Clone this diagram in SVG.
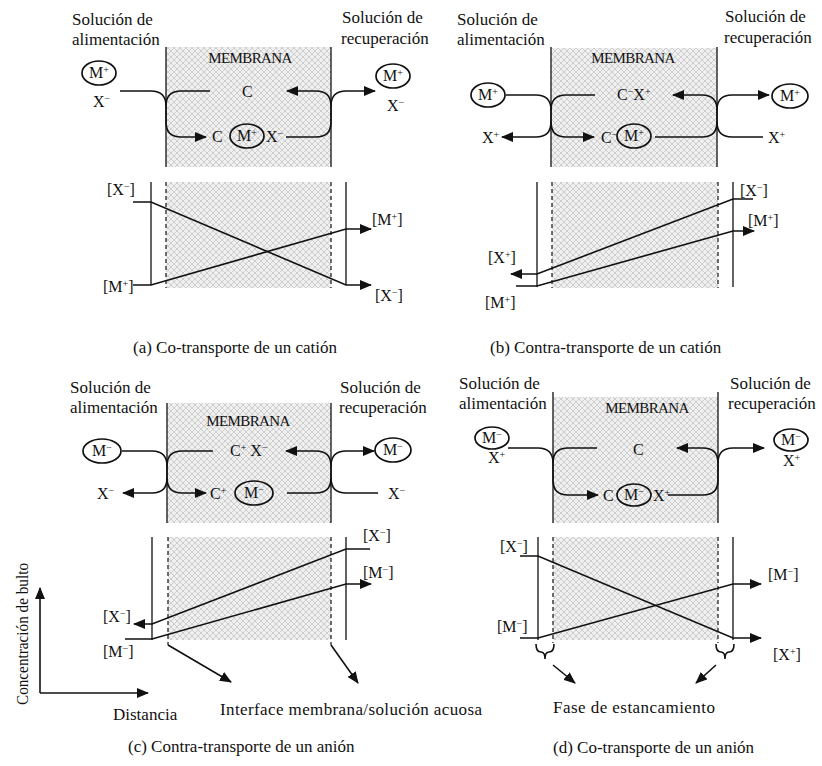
<svg xmlns="http://www.w3.org/2000/svg" width="822" height="766" viewBox="0 0 822 766">
<defs>
<pattern id="hatch" width="6" height="6" patternUnits="userSpaceOnUse">
<rect width="6" height="6" fill="#f0f0f0"/>
<path d="M0,0 L6,6 M6,0 L0,6" stroke="#cdcdcd" stroke-width="1"/>
</pattern>
<marker id="ah" viewBox="0 0 12 10" markerUnits="userSpaceOnUse" markerWidth="12" markerHeight="10" refX="11" refY="5" orient="auto">
<path d="M0,0 L12,5 L0,10 z" fill="#111"/>
</marker>
<style>
text{font-family:"Liberation Serif","Times New Roman",serif;fill:#111;}
.h{font-size:17px;}
.cap{font-size:17px;}
.mem{font-size:15px;letter-spacing:-0.6px;}
.lb{font-size:16px;}
.in{font-size:16px;text-anchor:middle;}
.sup{font-size:10px;baseline-shift:super;}
.ln{fill:none;stroke:#111;stroke-width:1.6;}
.arr{fill:none;stroke:#111;stroke-width:1.6;marker-end:url(#ah);}
.wall{stroke:#222;stroke-width:1.4;}
.dash{stroke:#333;stroke-width:1.4;stroke-dasharray:4,3;}
.ion{fill:none;stroke:#111;stroke-width:1.7;}
.hb{fill:url(#hatch);}
</style>
</defs>
<rect width="822" height="766" fill="#fff"/>

<!-- ================= Panel A ================= -->
<g id="panel-a">
<g id="a-membrane">
<rect class="hb" x="166" y="47" width="165" height="120"/>
<line class="wall" x1="166" y1="47" x2="166" y2="167"/>
<line class="wall" x1="331" y1="47" x2="331" y2="167"/>
<text class="mem" x="250" y="63" text-anchor="middle">MEMBRANA</text>
</g>
<g id="a-labels">
<text class="h" x="72" y="25">Solución de</text>
<text class="h" x="72" y="45">alimentación</text>
<text class="h" x="342" y="23">Solución de</text>
<text class="h" x="341" y="44">recuperación</text>
</g>
<g id="a-feed-ion"><ellipse class="ion" cx="99" cy="73" rx="17" ry="12"/><text class="in" x="99" y="78">M<tspan class="sup">+</tspan></text><text class="lb" x="93" y="107">X<tspan class="sup">−</tspan></text></g>
<g id="a-strip-ion"><ellipse class="ion" cx="393" cy="76" rx="17" ry="12"/><text class="in" x="393" y="81">M<tspan class="sup">+</tspan></text><text class="lb" x="387" y="111">X<tspan class="sup">−</tspan></text></g>
<g id="a-carrier"><text class="lb" x="242" y="97">C</text></g>
<g id="a-complex"><text class="lb" x="212" y="142">C</text><ellipse class="ion" cx="247" cy="136" rx="17" ry="12"/><text class="in" x="247" y="141">M<tspan class="sup">+</tspan></text><text class="lb" x="266" y="142">X<tspan class="sup">−</tspan></text></g>
<g id="a-connectors">
<path class="arr" d="M120,91 H151 Q166,91 166,106 V122 Q166,137 181,137 H206"/>
<path class="ln" d="M210,91 H181 Q166,91 166,106"/>
<path class="arr" d="M331,106 Q331,91 316,91 H287"/>
<path class="arr" d="M331,106 Q331,91 346,91 H375"/>
<path class="ln" d="M286,137 H316 Q331,137 331,122 V106"/>
</g>
<g id="a-chart">
<rect class="hb" x="166" y="182" width="165" height="106"/>
<line class="dash" x1="166" y1="182" x2="166" y2="288"/>
<line class="dash" x1="331" y1="182" x2="331" y2="288"/>
<line class="wall" x1="151" y1="182" x2="151" y2="285"/>
<line class="wall" x1="346" y1="182" x2="346" y2="285"/>
</g>
<g id="a-profiles">
<path class="arr" d="M133,202 H151 L346,285 H371"/>
<path class="arr" d="M133,285 H151 L346,229 H371"/>
</g>
<g id="a-chart-labels">
<text class="lb" x="107" y="195">[X<tspan class="sup">−</tspan>]</text>
<text class="lb" x="103" y="292">[M<tspan class="sup">+</tspan>]</text>
<text class="lb" x="372" y="225">[M<tspan class="sup">+</tspan>]</text>
<text class="lb" x="375" y="301">[X<tspan class="sup">−</tspan>]</text>
</g>
<text class="cap" x="133" y="353">(a) Co-transporte de un catión</text>
</g>

<!-- ================= Panel B ================= -->
<g id="panel-b">
<g id="b-membrane">
<rect class="hb" x="551" y="48" width="166" height="119"/>
<line class="wall" x1="551" y1="47" x2="551" y2="167"/>
<line class="wall" x1="717" y1="47" x2="717" y2="167"/>
<text class="mem" x="633" y="63" text-anchor="middle">MEMBRANA</text>
</g>
<g id="b-labels">
<text class="h" x="457" y="25">Solución de</text>
<text class="h" x="457" y="45">alimentación</text>
<text class="h" x="725" y="22">Solución de</text>
<text class="h" x="724" y="43">recuperación</text>
</g>
<g id="b-feed-ion"><ellipse class="ion" cx="488" cy="95" rx="17" ry="12"/><text class="in" x="488" y="100">M<tspan class="sup">+</tspan></text></g>
<g id="b-feed-x"><text class="lb" x="482" y="143">X<tspan class="sup">+</tspan></text></g>
<g id="b-carrier"><text class="lb" x="617" y="100">C<tspan class="sup">−</tspan>X<tspan class="sup">+</tspan></text></g>
<g id="b-complex"><text class="lb" x="601" y="143">C<tspan class="sup">−</tspan></text><ellipse class="ion" cx="634" cy="136" rx="17" ry="12"/><text class="in" x="634" y="141">M<tspan class="sup">+</tspan></text></g>
<g id="b-strip-ion"><ellipse class="ion" cx="790" cy="96" rx="18" ry="12"/><text class="in" x="790" y="101">M<tspan class="sup">+</tspan></text></g>
<g id="b-strip-x"><text class="lb" x="768" y="143">X<tspan class="sup">+</tspan></text></g>
<g id="b-connectors">
<path class="arr" d="M506,95 H536 Q551,95 551,110 V122 Q551,137 566,137 H594"/>
<path class="ln" d="M595,95 H566 Q551,95 551,110"/>
<path class="arr" d="M551,122 Q551,137 536,137 H502"/>
<path class="arr" d="M717,110 Q717,95 702,95 H673"/>
<path class="arr" d="M717,110 Q717,95 732,95 H769"/>
<path class="ln" d="M655,137 H702 Q717,137 717,122 V110"/>
<path class="ln" d="M717,122 Q717,137 732,137 H763"/>
</g>
<g id="b-chart">
<rect class="hb" x="552" y="182" width="166" height="106"/>
<line class="dash" x1="552" y1="182" x2="552" y2="288"/>
<line class="dash" x1="718" y1="182" x2="718" y2="288"/>
<line class="wall" x1="537" y1="182" x2="537" y2="287"/>
<line class="wall" x1="733" y1="182" x2="733" y2="287"/>
</g>
<g id="b-profiles">
<path class="arr" d="M753,199 H733 L537,274 H511"/>
<path class="arr" d="M516,286 H537 L733,231 H754"/>
</g>
<g id="b-chart-labels">
<text class="lb" x="740" y="196">[X<tspan class="sup">−</tspan>]</text>
<text class="lb" x="748" y="226">[M<tspan class="sup">+</tspan>]</text>
<text class="lb" x="488" y="263">[X<tspan class="sup">+</tspan>]</text>
<text class="lb" x="485" y="308">[M<tspan class="sup">+</tspan>]</text>
</g>
<text class="cap" x="490" y="353">(b) Contra-transporte de un catión</text>
</g>

<!-- ================= Panel C ================= -->
<g id="panel-c">
<g id="c-membrane">
<rect class="hb" x="167" y="403" width="164" height="120"/>
<line class="wall" x1="167" y1="403" x2="167" y2="523"/>
<line class="wall" x1="331" y1="403" x2="331" y2="523"/>
<text class="mem" x="248" y="426" text-anchor="middle">MEMBRANA</text>
</g>
<g id="c-labels">
<text class="h" x="70" y="393">Solución de</text>
<text class="h" x="70" y="413">alimentación</text>
<text class="h" x="340" y="393">Solución de</text>
<text class="h" x="339" y="413">recuperación</text>
</g>
<g id="c-feed-ion"><ellipse class="ion" cx="102" cy="451" rx="19" ry="12"/><text class="in" x="102" y="456">M<tspan class="sup">−</tspan></text></g>
<g id="c-feed-x"><text class="lb" x="97" y="499">X<tspan class="sup">−</tspan></text></g>
<g id="c-carrier"><text class="lb" x="230" y="456">C<tspan class="sup">+</tspan> X<tspan class="sup">−</tspan></text></g>
<g id="c-complex"><text class="lb" x="210" y="499">C<tspan class="sup">+</tspan></text><ellipse class="ion" cx="254" cy="493" rx="19" ry="12"/><text class="in" x="254" y="498">M<tspan class="sup">−</tspan></text></g>
<g id="c-strip-ion"><ellipse class="ion" cx="393" cy="450" rx="18" ry="12"/><text class="in" x="393" y="455">M<tspan class="sup">−</tspan></text></g>
<g id="c-strip-x"><text class="lb" x="388" y="499">X<tspan class="sup">−</tspan></text></g>
<g id="c-connectors">
<path class="arr" d="M122,451 H152 Q167,451 167,466 V478 Q167,493 182,493 H206"/>
<path class="ln" d="M213,451 H182 Q167,451 167,466"/>
<path class="arr" d="M167,478 Q167,493 152,493 H123"/>
<path class="arr" d="M331,466 Q331,451 316,451 H286"/>
<path class="arr" d="M331,466 Q331,451 346,451 H374"/>
<path class="ln" d="M287,493 H316 Q331,493 331,478 V466"/>
<path class="ln" d="M331,478 Q331,493 346,493 H378"/>
</g>
<g id="c-chart">
<rect class="hb" x="168" y="537" width="163" height="103"/>
<line class="dash" x1="168" y1="537" x2="168" y2="645"/>
<line class="dash" x1="331" y1="537" x2="331" y2="645"/>
<line class="wall" x1="152" y1="537" x2="152" y2="640"/>
<line class="wall" x1="346" y1="537" x2="346" y2="640"/>
</g>
<g id="c-profiles">
<path class="arr" d="M370,549 H346 L152,624 H134"/>
<path class="arr" d="M125,639 H152 L346,584 H371"/>
<path class="arr" d="M168,645 L231,682"/>
<path class="arr" d="M331,645 L358,683"/>
</g>
<g id="c-chart-labels">
<text class="lb" x="363" y="541">[X<tspan class="sup">−</tspan>]</text>
<text class="lb" x="363" y="578">[M<tspan class="sup">−</tspan>]</text>
<text class="lb" x="103" y="622">[X<tspan class="sup">−</tspan>]</text>
<text class="lb" x="103" y="657">[M<tspan class="sup">−</tspan>]</text>
<text class="h" x="220" y="715" textLength="262" lengthAdjust="spacing">Interface membrana/solución acuosa</text>
</g>
<g id="c-axes">
<path class="arr" d="M40,693 V588"/>
<path class="arr" d="M40,693 H148"/>
<text class="h" transform="translate(28,634) rotate(-90)" text-anchor="middle" textLength="142" lengthAdjust="spacingAndGlyphs">Concentración de bulto</text>
<text class="h" x="113" y="720">Distancia</text>
</g>
<text class="cap" x="128" y="752">(c) Contra-transporte de un anión</text>
</g>

<!-- ================= Panel D ================= -->
<g id="panel-d">
<g id="d-membrane">
<rect class="hb" x="553" y="397" width="165" height="126"/>
<line class="wall" x1="553" y1="392" x2="553" y2="523"/>
<line class="wall" x1="718" y1="392" x2="718" y2="523"/>
<text class="mem" x="647" y="413" text-anchor="middle">MEMBRANA</text>
</g>
<g id="d-labels">
<text class="h" x="459" y="389">Solución de</text>
<text class="h" x="459" y="409">alimentación</text>
<text class="h" x="730" y="389">Solución de</text>
<text class="h" x="728" y="409">recuperación</text>
</g>
<g id="d-feed-ion"><ellipse class="ion" cx="492" cy="438" rx="17" ry="11"/><text class="in" x="492" y="443">M<tspan class="sup">−</tspan></text><text class="lb" x="488" y="463">X<tspan class="sup">+</tspan></text></g>
<g id="d-carrier"><text class="lb" x="633" y="455">C</text></g>
<g id="d-complex"><text class="lb" x="603" y="501">C</text><ellipse class="ion" cx="634" cy="495" rx="17" ry="11"/><text class="in" x="634" y="500">M<tspan class="sup">−</tspan></text><text class="lb" x="653" y="501">X<tspan class="sup">+</tspan></text></g>
<g id="d-strip-ion"><ellipse class="ion" cx="791" cy="440" rx="17" ry="11"/><text class="in" x="791" y="445">M<tspan class="sup">−</tspan></text><text class="lb" x="783" y="466">X<tspan class="sup">+</tspan></text></g>
<g id="d-connectors">
<path class="arr" d="M508,448 H538 Q553,448 553,463 V480 Q553,495 568,495 H598"/>
<path class="ln" d="M597,448 H568 Q553,448 553,463"/>
<path class="arr" d="M718,463 Q718,448 703,448 H677"/>
<path class="arr" d="M718,463 Q718,448 733,448 H764"/>
<path class="ln" d="M668,495 H703 Q718,495 718,480 V463"/>
</g>
<g id="d-chart">
<rect class="hb" x="553" y="537" width="165" height="103"/>
<line class="dash" x1="553" y1="537" x2="553" y2="643"/>
<line class="dash" x1="718" y1="537" x2="718" y2="643"/>
<line class="wall" x1="538" y1="537" x2="538" y2="640"/>
<line class="wall" x1="733" y1="537" x2="733" y2="640"/>
</g>
<g id="d-profiles">
<path class="arr" d="M520,556 H538 L733,638 H761"/>
<path class="arr" d="M520,638 H538 L733,584 H761"/>
<path class="ln" d="M536,644 Q536,652 541,652 Q545,652 545,659 Q545,652 549,652 Q554,652 554,644"/>
<path class="ln" d="M716,644 Q716,652 721,652 Q725,652 725,659 Q725,652 729,652 Q734,652 734,644"/>
<path class="arr" d="M553,665 L575,683"/>
<path class="arr" d="M716,665 L696,683"/>
</g>
<g id="d-chart-labels">
<text class="lb" x="500" y="552">[X<tspan class="sup">−</tspan>]</text>
<text class="lb" x="497" y="632">[M<tspan class="sup">−</tspan>]</text>
<text class="lb" x="768" y="580">[M<tspan class="sup">−</tspan>]</text>
<text class="lb" x="773" y="660">[X<tspan class="sup">+</tspan>]</text>
<text class="h" x="553" y="713" textLength="162" lengthAdjust="spacing">Fase de estancamiento</text>
</g>
<text class="cap" x="553" y="753">(d) Co-transporte de un anión</text>
</g>
</svg>
